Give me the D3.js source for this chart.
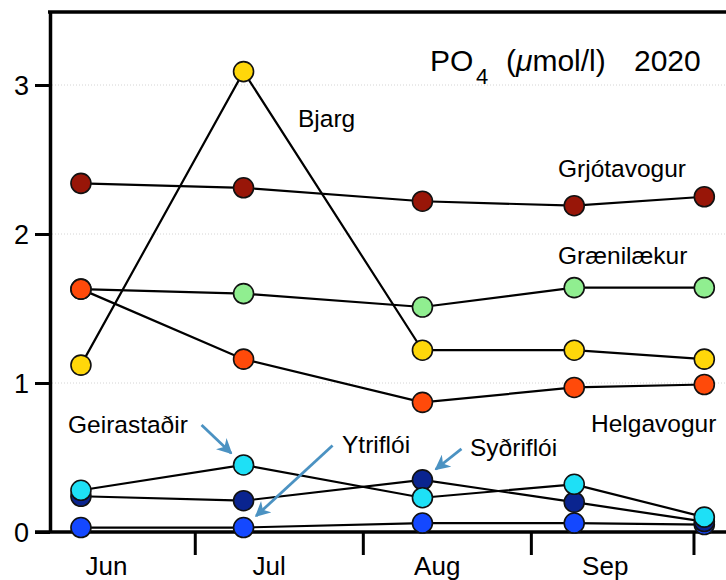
<!DOCTYPE html>
<html>
<head>
<meta charset="utf-8">
<script src="https://cdn.jsdelivr.net/npm/d3@7"></script>
<style>
  body { margin: 0; background: #fff; }
  svg { display: block; font-family: "Liberation Sans", Arial, Helvetica, sans-serif; }
</style>
</head>
<body>
<section></section>
<script>

// data

const sampleDates = ['2020-06-10', '2020-07-10', '2020-08-12', '2020-09-09', '2020-10-03'];

const monthLabels = ['Jun', 'Jul', 'Aug', 'Sep'];
const monthMids = ['2020-06-15', '2020-07-15', '2020-08-15', '2020-09-15'];
const monthStarts = ['2020-07-01', '2020-08-01', '2020-09-01', '2020-10-01'];

const yTicks = [0, 1, 2, 3];

const stations = ['Grænilækur', 'Helgavogur', 'Grjótavogur', 'Bjarg', 'Ytriflói', 'Syðriflói', 'Geirastaðir'];

const graenilaekur = [1.63, 1.60, 1.51, 1.64, 1.64];
const helgavogur = [1.63, 1.16, 0.87, 0.97, 0.99];
const grjotavogur = [2.34, 2.31, 2.22, 2.19, 2.25];
const bjarg = [1.12, 3.09, 1.22, 1.22, 1.16];
const ytrifloi = [0.03, 0.03, 0.06, 0.06, 0.05];
const sydrifloi = [0.24, 0.21, 0.35, 0.20, 0.07];
const geirastadir = [0.28, 0.45, 0.23, 0.32, 0.10];

const colors = ['#90ee90', '#ff4a0a', '#981608', '#ffd70a', '#1448ff', '#0a248f', '#1ee0f6'];

const seriesValues = [graenilaekur, helgavogur, grjotavogur, bjarg, ytrifloi, sydrifloi, geirastadir];


const w = 726;
const h = 580;

const parse = d3.timeParse('%Y-%m-%d');

const svg = d3.select('section').append('svg').attr('width', w).attr('height', h);


// scales

const xScale = d3.scaleTime()
    .domain([new Date(2020, 5, 4, 7), new Date(2020, 9, 7)])
    .range([50, 726]);

const yScale = d3.scaleLinear().domain([0, 3.49]).range([532, 12]);


// grid

svg.append('g').selectAll('line').data(yTicks.filter(d => d > 0)).enter().append('line')
    .attr('x1', 52).attr('x2', w)
    .attr('y1', d => yScale(d)).attr('y2', d => yScale(d))
    .attr('stroke', '#d4d4d4').attr('stroke-width', 1).attr('stroke-dasharray', '1,2');


// top frame line

svg.append('line')
    .attr('x1', 48).attr('x2', w)
    .attr('y1', yScale.range()[1]).attr('y2', yScale.range()[1])
    .attr('stroke', '#000').attr('stroke-width', 3.5);


// x-axis: month boundaries and month names

const xAxis = d3.axisBottom(xScale).tickValues(monthStarts.map(parse)).tickSize(23).tickFormat('').tickSizeOuter(0);

const gx = svg.append('g').attr('transform', `translate(0,${yScale(0)})`).call(xAxis);
gx.select('.domain').attr('d', `M35,0H${w}`).attr('stroke-width', 3.5);
gx.selectAll('.tick line').attr('stroke-width', 3);

const xLabels = d3.axisBottom(xScale).tickValues(monthMids.map(parse)).tickSize(0)
    .tickFormat((d, i) => monthLabels[i]);

const gxl = svg.append('g').attr('transform', `translate(0,${yScale(0)})`).call(xLabels);
gxl.select('.domain').remove();
gxl.selectAll('text').attr('y', 43).attr('dy', 0).attr('dx', -2)
    .style('font-size', '26px').attr('fill', '#000')
    .style('font-family', '"Liberation Sans", Arial, sans-serif');


// y-axis

const yAxis = d3.axisLeft(yScale).tickValues(yTicks).tickSize(15).tickPadding(6).tickFormat(d3.format('d')).tickSizeOuter(0);

const gy = svg.append('g').attr('transform', 'translate(50,0)').call(yAxis);
gy.select('.domain').attr('stroke-width', 3.5);
gy.selectAll('.tick line').attr('stroke-width', 3);
gy.selectAll('text').style('font-size', '27px').attr('dy', '0.36em')
    .style('font-family', '"Liberation Sans", Arial, sans-serif');


// lines

const line = d3.line().x((d, i) => xScale(parse(sampleDates[i]))).y(d => yScale(d));

svg.append('g').selectAll('path').data(seriesValues).enter().append('path')
    .attr('d', d => line(d))
    .attr('fill', 'none').attr('stroke', '#000').attr('stroke-width', 2.2);


// points

seriesValues.forEach((vals, s) => {
    svg.append('g').selectAll('circle').data(vals).enter().append('circle')
        .attr('cx', (d, i) => xScale(parse(sampleDates[i])))
        .attr('cy', d => yScale(d))
        .attr('r', 10)
        .attr('fill', colors[s])
        .attr('stroke', '#111').attr('stroke-width', 1.6);
});


// station labels

const labelPos = {
    'Bjarg': [298, 127],
    'Grjótavogur': [558, 177],
    'Grænilækur': [558, 264],
    'Helgavogur': [591, 432],
    'Geirastaðir': [68, 433],
    'Ytriflói': [342, 453],
    'Syðriflói': [470, 456]
};

svg.append('g').selectAll('text').data(stations).enter().append('text')
    .attr('x', d => labelPos[d][0])
    .attr('y', d => labelPos[d][1])
    .style('font-size', '24.5px')
    .text(d => d);


// arrows to points

const arrowColor = '#4b92c2';

svg.append('defs').append('marker')
    .attr('id', 'head').attr('viewBox', '0 0 10 10')
    .attr('refX', 9).attr('refY', 5)
    .attr('markerWidth', 5.5).attr('markerHeight', 5.5)
    .attr('orient', 'auto-start-reverse')
    .append('path').attr('d', 'M0,0L10,5L0,10L3,5Z').attr('fill', arrowColor);

// [station, sample index, start offset dx, dy]
const arrows = [
    ['Geirastaðir', 1, -42, -40],
    ['Ytriflói', 1, 89, -82],
    ['Syðriflói', 2, 39, -31]
];

svg.append('g').selectAll('line').data(arrows).enter().append('line')
    .each(function (d) {
        const s = stations.indexOf(d[0]);
        const cx = xScale(parse(sampleDates[d[1]]));
        const cy = yScale(seriesValues[s][d[1]]);
        const len = Math.hypot(d[2], d[3]);
        const gap = 17;
        d3.select(this)
            .attr('x1', cx + d[2]).attr('y1', cy + d[3])
            .attr('x2', cx + d[2] / len * gap).attr('y2', cy + d[3] / len * gap);
    })
    .attr('stroke', arrowColor).attr('stroke-width', 2.8)
    .attr('marker-end', 'url(#head)');


// title

const title = svg.append('g').style('font-size', '30px');
title.append('text').attr('x', 430).attr('y', 71).text('PO');
title.append('text').attr('x', 476).attr('y', 84).style('font-size', '22px').text('4');
const unit = title.append('text').attr('x', 506).attr('y', 71);
unit.append('tspan').text('(');
unit.append('tspan').style('font-style', 'italic').text('μ');
unit.append('tspan').text('mol/l)');
title.append('text').attr('x', 634).attr('y', 71).text('2020');

</script>
</body>
</html>
